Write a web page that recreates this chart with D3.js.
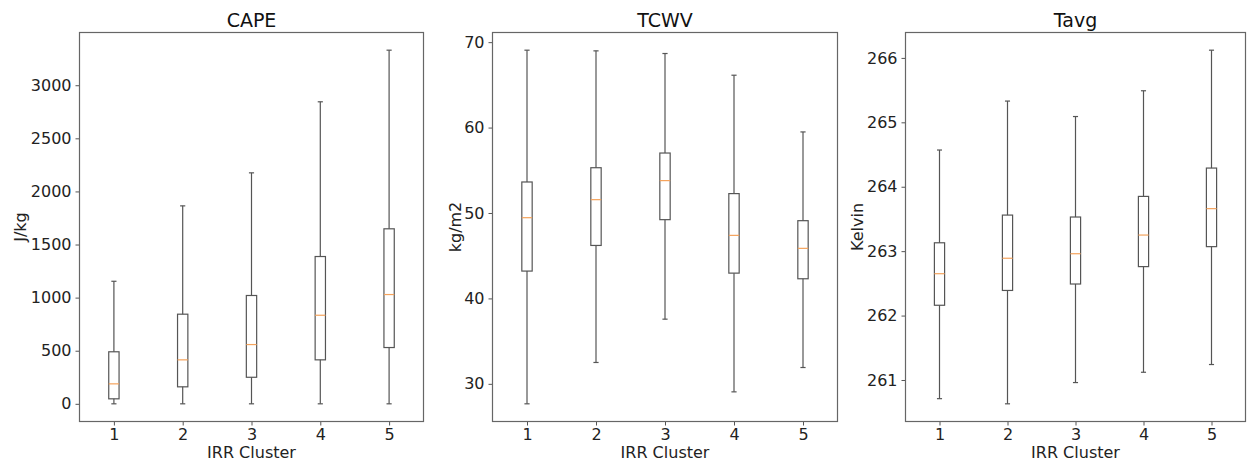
<!DOCTYPE html>
<html>
<head>
<meta charset="utf-8">
<script src="https://cdn.jsdelivr.net/npm/d3@7"></script>
<style>
  html, body { margin: 0; padding: 0; background: #fff; }
  svg { display: block; font-family: "DejaVu Sans", sans-serif; }
</style>
</head>
<body>
<svg id="chart" width="1248" height="461"></svg>
<script>
// Cluster labels shared by all three panels
const clusters = [1, 2, 3, 4, 5];

// Box statistics per cluster: [whisker low, Q1, median, Q3, whisker high]
const capeStats = [
  [0, 47, 188, 490, 1154],
  [0, 160, 414, 844, 1864],
  [0, 250, 558, 1020, 2175],
  [0, 414, 834, 1387, 2844],
  [0, 530, 1029, 1648, 3330]
];
const tcwvStats = [
  [27.66, 43.2, 49.45, 53.63, 69.06],
  [32.5, 46.2, 51.56, 55.3, 68.98],
  [37.57, 49.22, 53.79, 57.02, 68.67],
  [29.06, 42.96, 47.38, 52.27, 66.13],
  [31.91, 42.3, 45.86, 49.1, 59.49]
];
const tavgStats = [
  [260.71, 262.16, 262.65, 263.13, 264.57],
  [260.63, 262.39, 262.89, 263.56, 265.33],
  [260.96, 262.49, 262.96, 263.53, 265.09],
  [261.12, 262.76, 263.25, 263.85, 265.49],
  [261.24, 263.07, 263.66, 264.29, 266.12]
];

// Tick values for each y axis
const capeTicks = [0, 500, 1000, 1500, 2000, 2500, 3000];
const tcwvTicks = [30, 40, 50, 60, 70];
const tavgTicks = [261, 262, 263, 264, 265, 266];

const panels = [
  { title: "CAPE", ylabel: "J/kg", stats: capeStats, ticks: capeTicks, x0: 79.5, x1: 423.5, labelX: 20 },
  { title: "TCWV", ylabel: "kg/m2", stats: tcwvStats, ticks: tcwvTicks, x0: 492.5, x1: 837.5, labelX: 455 },
  { title: "Tavg", ylabel: "Kelvin", stats: tavgStats, ticks: tavgTicks, x0: 905.5, x1: 1245.5, labelX: 857 }
];

const plotTop = 32.5, plotBottom = 421.5;
const lineColor = "#555";
const medianColor = "#f5a35c";
const boxWidth = 0.15;

const svg = d3.select("#chart");

panels.forEach(p => {
  const g = svg.append("g");

  // Axis extent padded by 5% of the data range on each side
  const lo = d3.min(p.stats, d => d[0]);
  const hi = d3.max(p.stats, d => d[4]);
  const pad = (hi - lo) * 0.05;

  const x = d3.scaleLinear().domain([0.5, 5.5]).range([p.x0, p.x1]);
  const y = d3.scaleLinear().domain([lo - pad, hi + pad]).range([plotBottom, plotTop]);

  // Boxes, whiskers, caps and medians
  const items = g.selectAll("g.box").data(p.stats.map((s, i) => ({ c: clusters[i], s })))
    .enter().append("g").attr("class", "box");

  items.append("line")
    .attr("x1", d => x(d.c)).attr("x2", d => x(d.c))
    .attr("y1", d => y(d.s[0])).attr("y2", d => y(d.s[1]))
    .attr("stroke", lineColor).attr("stroke-width", 1.2);
  items.append("line")
    .attr("x1", d => x(d.c)).attr("x2", d => x(d.c))
    .attr("y1", d => y(d.s[3])).attr("y2", d => y(d.s[4]))
    .attr("stroke", lineColor).attr("stroke-width", 1.2);
  [0, 4].forEach(k => {
    items.append("line")
      .attr("x1", d => x(d.c - boxWidth / 4)).attr("x2", d => x(d.c + boxWidth / 4))
      .attr("y1", d => y(d.s[k])).attr("y2", d => y(d.s[k]))
      .attr("stroke", lineColor).attr("stroke-width", 1.2);
  });
  items.append("rect")
    .attr("x", d => x(d.c - boxWidth / 2))
    .attr("width", d => x(d.c + boxWidth / 2) - x(d.c - boxWidth / 2))
    .attr("y", d => y(d.s[3]))
    .attr("height", d => y(d.s[1]) - y(d.s[3]))
    .attr("fill", "none").attr("stroke", lineColor).attr("stroke-width", 1.2);
  items.append("line")
    .attr("x1", d => x(d.c - boxWidth / 2)).attr("x2", d => x(d.c + boxWidth / 2))
    .attr("y1", d => y(d.s[2])).attr("y2", d => y(d.s[2]))
    .attr("stroke", medianColor).attr("stroke-width", 1.2);

  // Axes
  const yAxis = d3.axisLeft(y).tickValues(p.ticks).tickSize(4).tickPadding(4).tickFormat(d3.format("d"));
  const xAxis = d3.axisBottom(x).tickValues(clusters).tickSize(4).tickPadding(3).tickFormat(d3.format("d"));

  const ya = g.append("g").attr("transform", `translate(${p.x0},0)`).call(yAxis);
  const xa = g.append("g").attr("transform", `translate(0,${plotBottom})`).call(xAxis);
  [ya, xa].forEach(a => {
    a.select(".domain").remove();
    a.selectAll(".tick line").attr("stroke", lineColor);
    a.selectAll(".tick text").attr("fill", "#222").style("font-size", "16px")
      .style("font-family", "'DejaVu Sans', sans-serif");
  });

  // Frame around the plotting area
  g.append("rect")
    .attr("x", p.x0).attr("y", plotTop)
    .attr("width", p.x1 - p.x0).attr("height", plotBottom - plotTop)
    .attr("fill", "none").attr("stroke", "#666").attr("stroke-width", 1.2);

  // Titles and axis labels
  g.append("text")
    .attr("x", (p.x0 + p.x1) / 2).attr("y", 27)
    .attr("text-anchor", "middle").attr("fill", "#111")
    .style("font-size", "19px").text(p.title);
  g.append("text")
    .attr("x", (p.x0 + p.x1) / 2).attr("y", 458)
    .attr("text-anchor", "middle").attr("fill", "#222")
    .style("font-size", "16px").text("IRR Cluster");
  g.append("text")
    .attr("transform", `translate(${p.labelX},${(plotTop + plotBottom) / 2}) rotate(-90)`)
    .attr("text-anchor", "middle").attr("dominant-baseline", "central").attr("fill", "#222")
    .style("font-size", "16px").text(p.ylabel);
});
</script>
</body>
</html>
